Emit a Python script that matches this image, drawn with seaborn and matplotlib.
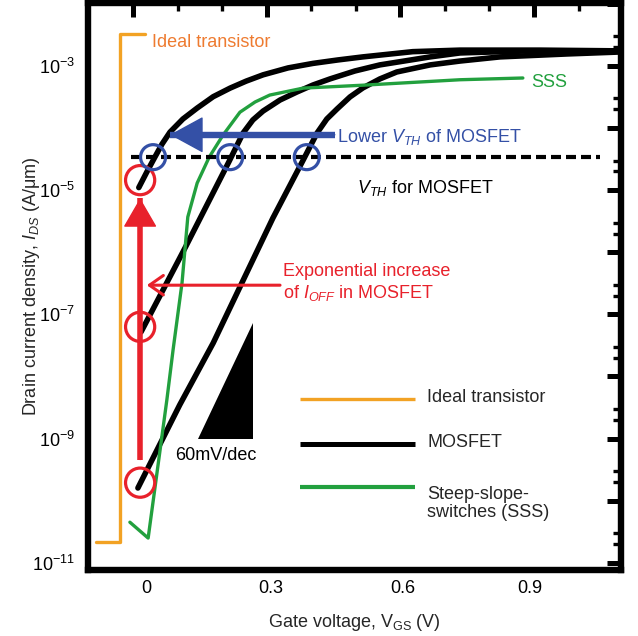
import numpy as np
import pandas as pd
import matplotlib
matplotlib.use("Agg")
import matplotlib.pyplot as plt
import matplotlib.ticker as mticker
import matplotlib.transforms as mtransforms
import seaborn as sns

# ---- transfer characteristics: gate voltage (V) vs drain current density (A/um) ----
ideal_vgs = [-0.083, -0.029, -0.029, 0.027]
ideal_ids = [2.2e-11, 2.2e-11, 3.3e-3, 3.3e-3]

mos_low_vgs = [0.013, 0.031, 0.049, 0.065, 0.083, 0.112, 0.144, 0.180, 0.218, 0.254,
               0.292, 0.348, 0.404, 0.460, 0.516, 0.628, 0.734, 0.913, 1.095]
mos_low_ids = [1.1e-5, 1.96e-5, 3.4e-5, 5.5e-5, 8.6e-5, 1.4e-4, 2.1e-4, 3.2e-4, 4.4e-4, 5.7e-4,
               7.2e-4, 9.3e-4, 1.1e-3, 1.25e-3, 1.4e-3, 1.7e-3, 1.8e-3, 1.8e-3, 1.75e-3]

mos_mid_vgs = [0.018, 0.119, 0.215, 0.247, 0.269, 0.292, 0.330, 0.368, 0.404, 0.442,
               0.498, 0.554, 0.667, 0.734, 0.891, 1.095]
mos_mid_ids = [5.2e-8, 1.26e-6, 2.84e-5, 8.3e-5, 1.35e-4, 1.88e-4, 2.83e-4, 3.81e-4, 4.94e-4, 6.18e-4,
               8.3e-4, 1.04e-3, 1.40e-3, 1.62e-3, 1.75e-3, 1.75e-3]

mos_high_vgs = [0.011, 0.105, 0.180, 0.240, 0.314, 0.382, 0.413, 0.435, 0.458, 0.487,
                0.516, 0.554, 0.592, 0.667, 0.734, 0.824, 0.974, 1.095]
mos_high_ids = [1.6e-10, 3.5e-9, 3.46e-8, 2.76e-7, 3.56e-6, 3.06e-5, 8.3e-5, 1.40e-4, 2.03e-4, 3.17e-4,
                4.43e-4, 6.18e-4, 8.0e-4, 1.04e-3, 1.20e-3, 1.40e-3, 1.56e-3, 1.68e-3]

sss_vgs = [-0.007, 0.034, 0.076, 0.090, 0.110, 0.123, 0.144, 0.171, 0.202, 0.240,
           0.274, 0.307, 0.382, 0.516, 0.734, 0.875]
sss_ids = [4.5e-11, 2.5e-11, 4.2e-9, 2.7e-8, 3.2e-7, 3.7e-6, 1.3e-5, 3.4e-5, 7.7e-5, 1.8e-4,
           2.63e-4, 3.4e-4, 4.4e-4, 4.9e-4, 6.0e-4, 6.4e-4]

# off-state currents of the three MOSFETs at V_GS = 0
ioff_vgs = [0.016, 0.016, 0.016]
ioff_ids = [1.45e-5, 6.3e-8, 1.95e-10]

# threshold condition and the crossing points of each MOSFET
vth_level = 3.4e-5
vth_line_vgs = [-0.004, 1.048]
vth_vgs = [0.045, 0.218, 0.390]

# annotation arrows (start -> end)
ioff_arrow_vgs = [0.016, 0.016]
ioff_arrow_ids = [4.6e-10, 7.4e-6]
ioff_pointer_vgs = [0.330, 0.031]
ioff_pointer_ids = [2.95e-7, 2.95e-7]
vth_arrow_vgs = [0.453, 0.083]
vth_arrow_ids = [7.8e-5, 7.8e-5]

# 60 mV/dec slope triangle
slope_vgs = [0.146, 0.269, 0.269]
slope_ids = [9.8e-10, 9.8e-10, 7.2e-8]

x_ticks = [0, 0.3, 0.6, 0.9]
x_tick_labels = ["0", "0.3", "0.6", "0.9"]
y_decades = list(range(-11, -1))
y_labelled = [-3, -5, -7, -9, -11]

ORANGE = "#F2A224"
ORANGE_TXT = "#EE7B30"
GREEN = "#22A03E"
RED = "#E8212B"
BLUE = "#3450A6"

sns.set_style("white")
plt.rcParams["font.family"] = ["Liberation Sans", "DejaVu Sans"]
plt.rcParams["mathtext.fontset"] = "custom"
plt.rcParams["mathtext.rm"] = "Liberation Sans"
plt.rcParams["mathtext.it"] = "Liberation Sans:italic"
plt.rcParams["mathtext.bf"] = "Liberation Sans:bold"

FS = 13

fig = plt.figure(figsize=(6.38, 6.36), dpi=100)
ax = fig.add_axes([0.1387, 0.1038, 0.8346, 0.8915])

mos = pd.concat([
    pd.DataFrame({"vgs": mos_low_vgs, "ids": mos_low_ids, "dev": "low"}),
    pd.DataFrame({"vgs": mos_mid_vgs, "ids": mos_mid_ids, "dev": "mid"}),
    pd.DataFrame({"vgs": mos_high_vgs, "ids": mos_high_ids, "dev": "high"}),
])

sns.lineplot(x=ideal_vgs, y=ideal_ids, ax=ax, color=ORANGE, lw=2.4,
             sort=False, estimator=None)
sns.lineplot(data=mos, x="vgs", y="ids", units="dev", estimator=None, sort=False,
             ax=ax, color="black", lw=4.0)
sns.lineplot(x=sss_vgs, y=sss_ids, ax=ax, color=GREEN, lw=2.4,
             sort=False, estimator=None)

ax.set_yscale("log")

# threshold line
ax.plot(vth_line_vgs, [vth_level, vth_level], color="black", lw=3.0,
        dashes=(2.4, 1.2), zorder=3)

# 60 mV/dec reference slope
ax.fill(slope_vgs, slope_ids, color="black", lw=0, zorder=3)

# red off-current increase arrow and pointer
ax.plot(ioff_arrow_vgs, ioff_arrow_ids, color=RED, lw=4.0, solid_capstyle="butt", zorder=4)
ax.annotate("", xy=(ioff_arrow_vgs[1], ioff_arrow_ids[1]),
            xytext=(ioff_arrow_vgs[0], ioff_arrow_ids[0]),
            arrowprops=dict(arrowstyle="-|>,head_length=19,head_width=11",
                            mutation_scale=1, color=RED, lw=1,
                            shrinkA=0, shrinkB=0), zorder=4)
ax.annotate("", xy=(ioff_pointer_vgs[1], ioff_pointer_ids[1]),
            xytext=(ioff_pointer_vgs[0], ioff_pointer_ids[0]),
            arrowprops=dict(arrowstyle="->,head_length=10,head_width=7",
                            mutation_scale=1, color=RED, lw=2.2,
                            shrinkA=0, shrinkB=0), zorder=4)

# blue threshold-shift arrow
ax.plot(vth_arrow_vgs, vth_arrow_ids, color=BLUE, lw=4.6, solid_capstyle="butt", zorder=4)
ax.annotate("", xy=(vth_arrow_vgs[1], vth_arrow_ids[1]),
            xytext=(vth_arrow_vgs[0], vth_arrow_ids[0]),
            arrowprops=dict(arrowstyle="-|>,head_length=22,head_width=12",
                            mutation_scale=1, color=BLUE, lw=1,
                            shrinkA=0, shrinkB=0), zorder=4)

# circles marking off-currents and threshold crossings
sns.scatterplot(x=ioff_vgs, y=ioff_ids, ax=ax, s=441, marker="o",
                facecolors="none", edgecolors=RED, linewidths=2.3, zorder=5)
sns.scatterplot(x=vth_vgs, y=[vth_level] * len(vth_vgs), ax=ax, s=324, marker="o",
                facecolors="none", edgecolors=BLUE, linewidths=2.3, zorder=5)

# in-plot labels
ax.text(0.043, 2.43e-3, "Ideal transistor", color=ORANGE_TXT, fontsize=FS,
        ha="left", va="center")
ax.text(0.893, 5.5e-4, "SSS", color=GREEN, fontsize=FS, ha="left", va="center")
ax.text(0.458, 7.2e-5, r"Lower $V_{TH}$ of MOSFET", color=BLUE, fontsize=FS,
        ha="left", va="center")
ax.text(0.503, 1.08e-5, r"$V_{TH}$ for MOSFET", color="black", fontsize=FS,
        ha="left", va="center")
ax.text(0.337, 3.2e-7, "Exponential increase\n" + r"of $I_{OFF}$ in MOSFET",
        color=RED, fontsize=FS, ha="left", va="center", linespacing=1.15)
ax.text(0.094, 5.4e-10, "60mV/dec", color="black", fontsize=FS,
        ha="left", va="center")

# legend drawn as sample lines with labels
legend_items = [
    ("Ideal transistor", ORANGE, 2.4, 0.302),
    ("MOSFET", "black", 3.6, 0.222),
    ("Steep-slope-\nswitches (SSS)", GREEN, 3.0, 0.146),
]
for label, col, lw, yy in legend_items:
    ax.plot([0.397, 0.613], [yy, yy], color=col, lw=lw, transform=ax.transAxes,
            solid_capstyle="butt", clip_on=False)
    ax.text(0.636, yy + 0.002, label, transform=ax.transAxes, fontsize=FS,
            ha="left", va="top" if "\n" in label else "center",
            linespacing=1.1)

# axes limits, ticks and frame
ax.set_xlim(-0.0999, 1.0952)
ax.set_ylim(10 ** -11.116, 10 ** -1.986)

ax.xaxis.set_major_locator(mticker.FixedLocator(x_ticks))
ax.xaxis.set_major_formatter(mticker.FixedFormatter(x_tick_labels))
ax.xaxis.set_minor_locator(mticker.MultipleLocator(0.1))

ax.yaxis.set_major_locator(mticker.FixedLocator([10.0 ** e for e in y_decades]))
ax.yaxis.set_minor_locator(mticker.LogLocator(base=10, subs=(2.0, 3.0), numticks=30))


def decade_label(val, pos):
    e = int(round(np.log10(val)))
    return r"$\mathregular{10^{%d}}$" % e if e in y_labelled else ""


ax.yaxis.set_major_formatter(mticker.FuncFormatter(decade_label))
ax.yaxis.set_minor_formatter(mticker.NullFormatter())

ax.tick_params(which="both", direction="in", top=True, right=True, colors="black",
               labelsize=FS)
ax.tick_params(which="major", length=10, width=3.6)
ax.tick_params(which="minor", length=6, width=2.4)
ax.tick_params(axis="y", which="major", pad=10)
ax.tick_params(axis="x", which="major", pad=7)

# the voltage labels sit slightly off their tick marks
label_nudge_pt = [9.5, 3.0, 1.5, -3.0]
for lab, dx in zip(ax.get_xticklabels(), label_nudge_pt):
    lab.set_transform(lab.get_transform()
                      + mtransforms.ScaledTranslation(dx / 72, 0, fig.dpi_scale_trans))

for sp in ax.spines.values():
    sp.set_visible(True)
    sp.set_color("black")
    sp.set_linewidth(4.6)

ax.set_xlabel(r"Gate voltage, V$_{\mathregular{GS}}$ (V)", fontsize=FS, labelpad=11)
ax.set_ylabel(r"Drain current density, $I_{DS}$ (A/$\mathregular{\mu}$m)", fontsize=FS)
ax.yaxis.set_label_coords(-0.088, 0.5)

fig.savefig("out.png", dpi=100)
